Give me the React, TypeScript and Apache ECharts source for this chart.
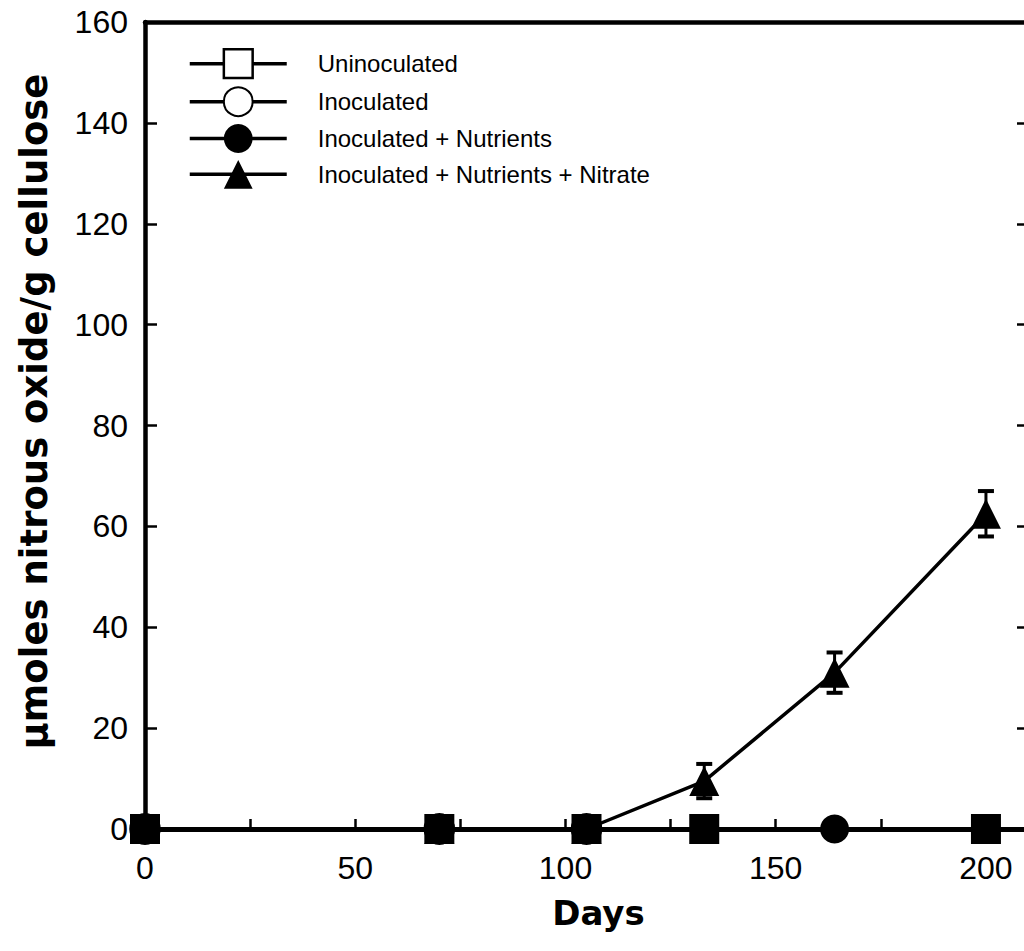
import React, { useEffect, useRef } from 'react';
import * as echarts from 'echarts';

// ---- data ----
const seriesNames = [
  'Uninoculated',
  'Inoculated',
  'Inoculated + Nutrients',
  'Inoculated + Nutrients + Nitrate',
];
const uninocDays = [0, 70, 105, 133, 200];
const uninocValues = [0, 0, 0, 0, 0];
const inocDays = [0, 70, 105];
const inocValues = [0, 0, 0];
const nutrDays = [0, 70, 105, 133, 164];
const nutrValues = [0, 0, 0, 0, 0];
const nitrateDays = [0, 70, 105, 133, 164, 200];
const nitrateValues = [0, 0, 0, 9.5, 31, 62.5];
const nitrateErrors = [0, 0, 0, 3.4, 4, 4.5];
const xTickLabels = [0, 50, 100, 150, 200];
const yTickLabels = [0, 20, 40, 60, 80, 100, 120, 140, 160];
const xTitle = 'Days';
const yTitle = 'μmoles nitrous oxide/g cellulose';

const pair = (xs: number[], ys: number[]) => xs.map((x, i) => [x, ys[i]]);

export default function App() {
  const ref = useRef<HTMLDivElement>(null);

  useEffect(() => {
    if (!ref.current) return;
    const chart = echarts.init(ref.current, null, { renderer: 'svg' });

    const errData = nitrateDays
      .map((d, i) => [d, nitrateValues[i] - nitrateErrors[i], nitrateValues[i] + nitrateErrors[i]])
      .filter((_, i) => nitrateErrors[i] > 0);

    const lineStyle = { color: '#000', width: 3.5 };
    const tickFont = { fontFamily: 'Liberation Sans, Arial, sans-serif', fontSize: 32, color: '#000' };
    const titleFont = { fontFamily: 'DejaVu Sans, sans-serif', fontWeight: 'bold' as const, color: '#000' };

    chart.setOption({
      animation: false,
      backgroundColor: '#fff',
      grid: { left: 145, width: 883, top: 22, bottom: 122, containLabel: false },
      legend: {
        orient: 'vertical',
        left: 183,
        top: 43,
        padding: 5,
        itemWidth: 97,
        itemHeight: 36,
        itemGap: 7,
        selectedMode: false,
        lineStyle: { width: 3.5, color: '#000' },
        textStyle: {
          fontFamily: 'Liberation Sans, Arial, sans-serif',
          fontSize: 24,
          color: '#000',
          padding: [0, 0, 0, 26],
        },
        data: [
          { name: seriesNames[0], itemStyle: { color: '#fff', borderColor: '#000', borderWidth: 2.5 } },
          { name: seriesNames[1] },
          { name: seriesNames[2] },
          { name: seriesNames[3] },
        ],
      },
      xAxis: [
        {
          type: 'value',
          min: 0,
          max: 210,
          interval: 25,
          position: 'bottom',
          axisLine: { show: true, onZero: false, lineStyle: { color: '#000', width: 5 } },
          axisTick: { show: true, inside: true, length: 10, lineStyle: { color: '#000', width: 2.5 } },
          axisLabel: {
            ...tickFont,
            margin: 23,
            showMaxLabel: false,
            formatter: (v: number) => (xTickLabels.includes(v) ? String(v) : ''),
          },
          splitLine: { show: false },
          name: xTitle,
          nameLocation: 'middle',
          nameGap: 67,
          nameTextStyle: { ...titleFont, fontSize: 34, padding: [0, 0, 0, 24] },
        },
        {
          type: 'value',
          min: 0,
          max: 210,
          position: 'top',
          axisLine: { show: true, onZero: false, lineStyle: { color: '#000', width: 4.5 } },
          axisTick: { show: false },
          axisLabel: { show: false },
          splitLine: { show: false },
        },
      ],
      yAxis: [
        {
          type: 'value',
          min: 0,
          max: 160,
          interval: 20,
          position: 'left',
          axisLine: { show: true, onZero: false, lineStyle: { color: '#000', width: 4.5 } },
          axisTick: { show: true, inside: true, length: 12, lineStyle: { color: '#000', width: 2.5 } },
          axisLabel: {
            ...tickFont,
            margin: 17,
            padding: [10, 0, 0, 0],
            formatter: (v: number) => (yTickLabels.includes(v) ? String(v) : ''),
          },
          splitLine: { show: false },
          name: yTitle,
          nameLocation: 'middle',
          nameGap: 92,
          nameTextStyle: { ...titleFont, fontSize: 37, padding: [0, 0, 0, 28] },
        },
        {
          type: 'value',
          min: 0,
          max: 160,
          interval: 20,
          position: 'right',
          axisLine: { show: true, onZero: false, lineStyle: { color: '#000', width: 4.5 } },
          axisTick: { show: true, inside: true, length: 11, lineStyle: { color: '#000', width: 2.5 } },
          axisLabel: { show: false },
          splitLine: { show: false },
        },
      ],
      series: [
        {
          name: seriesNames[1],
          type: 'line',
          data: pair(inocDays, inocValues),
          symbol: 'circle',
          symbolSize: 29,
          lineStyle,
          itemStyle: { color: '#fff', borderColor: '#000', borderWidth: 2.5 },
          z: 2,
        },
        {
          name: seriesNames[2],
          type: 'line',
          data: pair(nutrDays, nutrValues),
          symbol: 'circle',
          symbolSize: 29,
          lineStyle,
          itemStyle: { color: '#000', borderColor: '#000', borderWidth: 0 },
          z: 3,
        },
        {
          name: seriesNames[3],
          type: 'line',
          data: pair(nitrateDays, nitrateValues),
          symbol: 'triangle',
          symbolSize: [30, 30],
          lineStyle,
          itemStyle: { color: '#000', borderWidth: 0 },
          z: 4,
        },
        {
          name: 'errors',
          type: 'custom',
          data: errData,
          encode: { x: 0, y: [1, 2] },
          z: 5,
          renderItem: (params: any, api: any) => {
            const x = api.value(0);
            const lo = api.coord([x, api.value(1)]);
            const hi = api.coord([x, api.value(2)]);
            const w = 8;
            return {
              type: 'group',
              children: [
                { type: 'line', shape: { x1: lo[0], y1: lo[1], x2: hi[0], y2: hi[1] }, style: { stroke: '#000', lineWidth: 3 } },
                { type: 'line', shape: { x1: lo[0] - w, y1: lo[1], x2: lo[0] + w, y2: lo[1] }, style: { stroke: '#000', lineWidth: 4 } },
                { type: 'line', shape: { x1: hi[0] - w, y1: hi[1], x2: hi[0] + w, y2: hi[1] }, style: { stroke: '#000', lineWidth: 4 } },
              ],
            };
          },
        },
        {
          name: seriesNames[0],
          type: 'line',
          data: pair(uninocDays, uninocValues),
          symbol: 'rect',
          symbolSize: 30,
          lineStyle,
          itemStyle: { color: '#000', borderColor: '#000', borderWidth: 0 },
          z: 6,
        },
      ],
    });

    return () => chart.dispose();
  }, []);

  return (
    <div
      style={{
        position: 'absolute',
        left: 0,
        top: 0,
        width: 1024,
        height: 951,
        overflow: 'hidden',
        background: '#fff',
      }}
    >
      <div ref={ref} style={{ width: 1040, height: 951 }} />
    </div>
  );
}
